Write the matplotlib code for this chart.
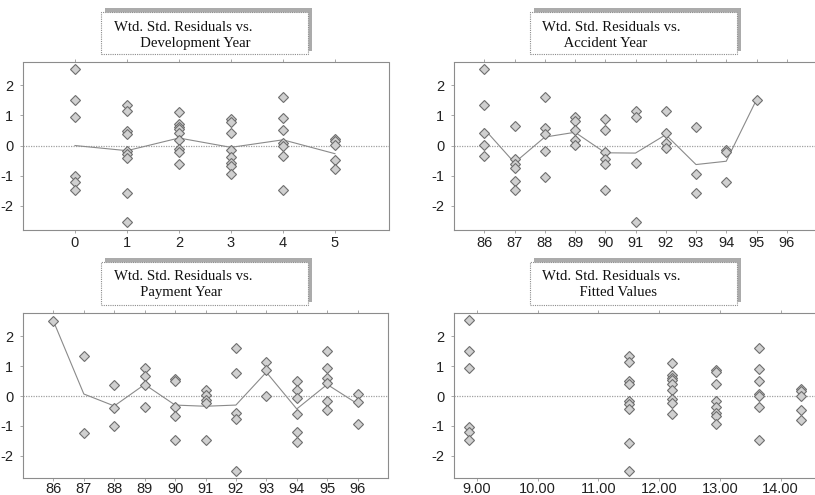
import numpy as np
import matplotlib.pyplot as plt
from matplotlib.patches import Rectangle

# residuals, grouped by x value
dev_years = [0, 1, 2, 3, 4, 5]
dev_resid = [
    [2.53, 1.51, 0.93, -1.02, -1.21, -1.47],
    [1.33, 1.13, 0.49, 0.39, -0.17, -0.27, -0.42, -1.57, -2.52],
    [1.11, 0.70, 0.62, 0.55, 0.40, 0.20, -0.11, -0.22, -0.60],
    [0.88, 0.79, 0.42, -0.16, -0.37, -0.58, -0.67, -0.94],
    [1.61, 0.92, 0.50, 0.07, 0.00, -0.35, -1.48],
    [0.23, 0.16, 0.01, -0.47, -0.79],
]
dev_mean = [0.0, -0.17, 0.25, -0.06, 0.19, -0.27]

acc_years = [86, 87, 88, 89, 90, 91, 92, 93, 94, 95]
acc_resid = [
    [2.54, 1.34, 0.42, 0.03, -0.35],
    [0.66, -0.44, -0.62, -0.75, -1.19, -1.47],
    [1.60, 0.57, 0.39, -0.18, -1.03],
    [0.94, 0.80, 0.50, 0.19, 0.01],
    [0.87, 0.50, -0.23, -0.46, -0.62, -1.47],
    [1.16, 0.94, -0.59, -2.52],
    [1.16, 0.41, 0.08, -0.07],
    [0.60, -0.95, -1.56],
    [-0.16, -0.22, -1.21],
    [1.52],
]
acc_mean = [0.55, -0.57, 0.28, 0.44, -0.24, -0.25, 0.36, -0.63, -0.52, 1.52]

pay_years = [86, 87, 88, 89, 90, 91, 92, 93, 94, 95, 96]
pay_resid = [
    [2.51],
    [1.33, -1.22],
    [0.37, -0.41, -1.01],
    [0.94, 0.67, 0.36, -0.37],
    [0.58, 0.50, -0.37, -0.67, -1.47],
    [0.21, 0.03, -0.13, -0.24, -1.46],
    [1.60, 0.78, -0.56, -0.78, -2.49],
    [1.14, 0.87, 0.01],
    [0.50, 0.20, -0.08, -0.60, -1.20, -1.55],
    [1.52, 0.93, 0.61, 0.43, -0.16, -0.47],
    [0.07, -0.21, -0.92],
]
pay_mean = [2.51, 0.07, -0.33, 0.39, -0.30, -0.34, -0.30, 0.80, -0.43, 0.39, -0.26]

# fitted value for each development year (same residuals as dev panel)
fitted_vals = [8.87, 11.51, 12.21, 12.93, 13.64, 14.34]

year_ticks = [86, 87, 88, 89, 90, 91, 92, 93, 94, 95, 96]
fit_ticks = [9, 10, 11, 12, 13, 14]
y_ticks = [-2, -1, 0, 1, 2]

W, H = 815, 495
TICK_FONT = ['Liberation Sans Narrow', 'Liberation Sans', 'DejaVu Sans']
TITLE_FONT = ['Liberation Serif', 'DejaVu Serif']
FRAME = '#8c8c8c'


def fig_rect(x0, y0, x1, y1):
    # pixel box (top-left origin) -> figure fraction rect
    return [x0 / W, 1 - y1 / H, (x1 - x0) / W, (y1 - y0) / H]


def setup_axes(ax, xlim, ylim, xticks, xlabels, label_pad=2):
    ax.set_xlim(*xlim)
    ax.set_ylim(*ylim)
    ax.set_xticks(xticks)
    ax.set_xticklabels(xlabels)
    ax.set_yticks(y_ticks)
    ax.set_yticklabels([str(v) for v in y_ticks])
    for s in ax.spines.values():
        s.set_linestyle((0, (1, 1)))
        s.set_color(FRAME)
        s.set_linewidth(0.8)
    ax.tick_params(axis='x', top=True, bottom=True, length=2, width=0.6,
                   color='#999999', pad=label_pad)
    ax.tick_params(axis='y', length=2, width=0.6, color='#999999', pad=5)
    for lab in ax.get_xticklabels() + ax.get_yticklabels():
        lab.set_family(TICK_FONT)
        lab.set_fontsize(10.5)
        lab.set_color('#222222')
    ax.axhline(0, color='#a0a0a0', lw=0.9, ls=(0, (1, 1)), zorder=1)


def scatter_groups(ax, xs, groups):
    for x, vals in zip(xs, groups):
        ax.plot([x] * len(vals), vals, ls='none', marker='D', ms=4.9,
                mfc='#d0d0d0', mec='#6e6e6e', mew=0.8, zorder=3)


def title_box(fig, box, x_text, y_base, text):
    x0, y0, x1, y1 = box
    s = fig_rect(x0 + 4, y0 - 3.5, x1 + 4, y1 - 3.5)
    shadow = Rectangle((s[0], s[1]), s[2], s[3], transform=fig.transFigure,
                       facecolor='#ababab', edgecolor='none', zorder=5)
    r = fig_rect(x0, y0, x1, y1)
    main = Rectangle((r[0], r[1]), r[2], r[3], transform=fig.transFigure,
                     facecolor='white', edgecolor='#8c8c8c', lw=0.8,
                     ls=(0, (1, 1)), zorder=6)
    fig.add_artist(shadow)
    fig.add_artist(main)
    # y_base is the baseline of the second line
    fig.text(x_text / W, 1 - y_base / H, text, family=TITLE_FONT,
             fontsize=10.6, va='baseline', ha='left', multialignment='left',
             linespacing=1.3, color='#111111', zorder=7)


fig = plt.figure(figsize=(W / 100, H / 100), dpi=100)

top_ylim = (-2.8, 2.77)
bot_ylim = (-2.74, 2.78)

ax1 = fig.add_axes(fig_rect(23, 62, 389, 230))
setup_axes(ax1, (-1, 6.04), top_ylim, dev_years, [str(d) for d in dev_years])
scatter_groups(ax1, dev_years, dev_resid)
ax1.plot(dev_years, dev_mean, color='#8a8a8a', lw=0.8, zorder=2)

ax2 = fig.add_axes(fig_rect(454, 62, 817, 230))
setup_axes(ax2, (85, 97), top_ylim, year_ticks, [str(y) for y in year_ticks])
scatter_groups(ax2, acc_years, acc_resid)
ax2.plot(acc_years, acc_mean, color='#8a8a8a', lw=0.8, zorder=2)

ax3 = fig.add_axes(fig_rect(23, 313, 388, 478))
setup_axes(ax3, (85, 97), bot_ylim, year_ticks, [str(y) for y in year_ticks],
           label_pad=1)
scatter_groups(ax3, pay_years, pay_resid)
ax3.plot(pay_years, pay_mean, color='#8a8a8a', lw=0.8, zorder=2)

ax4 = fig.add_axes(fig_rect(454, 313, 817, 478))
setup_axes(ax4, (8.62, 14.6), bot_ylim, fit_ticks,
           ['%.2f' % t for t in fit_ticks], label_pad=1)
scatter_groups(ax4, fitted_vals, dev_resid)

title_box(fig, (100.7, 11.7, 308, 54), 114, 46.7,
          'Wtd. Std. Residuals vs.\n       Development Year')
title_box(fig, (530.3, 11.7, 737.3, 54), 541.7, 46.7,
          'Wtd. Std. Residuals vs.\n      Accident Year')
title_box(fig, (100.7, 261.5, 308.3, 305), 114, 296,
          'Wtd. Std. Residuals vs.\n       Payment Year')
title_box(fig, (530.3, 261.5, 737.3, 305), 541.7, 296,
          'Wtd. Std. Residuals vs.\n          Fitted Values')

fig.savefig('out.png', dpi=100)
